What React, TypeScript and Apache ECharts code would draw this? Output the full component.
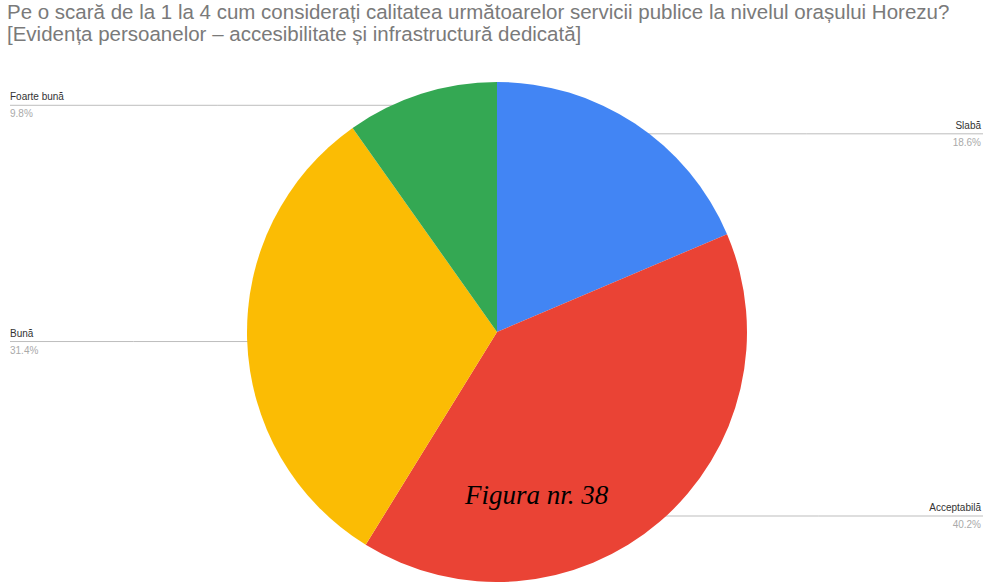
import React, { useEffect, useRef } from "react";
import * as echarts from "echarts";

const categories = ["Slabă", "Acceptabilă", "Bună", "Foarte bună"];
const values = [18.6, 40.2, 31.4, 9.8];
const colors = ["#4285F4", "#EA4335", "#FBBC04", "#34A853"];
const titleLines = [
  "Pe o scară de la 1 la 4 cum considerați calitatea următoarelor servicii publice la nivelul orașului Horezu?",
  "[Evidența persoanelor – accesibilitate și infrastructură dedicată]",
];
const figureCaption = "Figura nr. 38";

const W = 984;
const H = 582;
const CX = 497;
const CY = 332;
const R = 250;

export default function App() {
  const ref = useRef<HTMLDivElement>(null);
  useEffect(() => {
    if (!ref.current) return;
    const chart = echarts.init(ref.current, null, { renderer: "svg" });
    const total = values.reduce((a, b) => a + b, 0);
    const mids: number[] = [];
    let cum = 0;
    values.forEach((v) => {
      mids.push(((cum + v / 2) / total) * Math.PI * 2);
      cum += v;
    });
    chart.setOption({
      animation: false,
      backgroundColor: "#ffffff",
      title: {
        text: titleLines.join("\n"),
        left: 7,
        top: 0,
        padding: [0, 0, 0, 0],
        textStyle: {
          fontFamily: "Liberation Sans, Arial, sans-serif",
          fontSize: 20.5,
          fontWeight: "normal",
          color: "#7a7a7a",
          lineHeight: 22,
        },
      },
      graphic: [
        {
          type: "text",
          left: 465,
          top: 481,
          style: {
            text: figureCaption,
            font: "italic 27px 'Liberation Serif', 'Times New Roman', serif",
            fill: "#000000",
          },
          z: 100,
        },
      ],
      series: [
        {
          type: "pie",
          center: [CX, CY],
          radius: [0, R],
          startAngle: 90,
          clockwise: true,
          avoidLabelOverlap: false,
          itemStyle: { borderWidth: 0 },
          data: categories.map((c, i) => ({
            name: c,
            value: values[i],
            itemStyle: { color: colors[i] },
          })),
          label: {
            show: true,
            position: "outside",
            formatter: (p: any) => `{n|${p.name}}\n{p|${p.value.toFixed(1)}%}`,
            rich: {
              n: {
                fontFamily: "Liberation Sans, Arial, sans-serif",
                fontSize: 10,
                color: "#333333",
                lineHeight: 17,
              },
              p: {
                fontFamily: "Liberation Sans, Arial, sans-serif",
                fontSize: 10,
                color: "#aaaaaa",
                lineHeight: 17,
              },
            },
          },
          labelLine: {
            show: true,
            lineStyle: { color: "#bdbdbd", width: 1 },
          },
          labelLayout: (params: any) => {
            const a = mids[params.dataIndex];
            const x0 = CX + 0.96 * R * Math.sin(a);
            const y0 = CY - 0.96 * R * Math.cos(a) + 2;
            const right = Math.sin(a) > 0;
            const ex = right ? W - 1 : 10;
            return {
              x: right ? W - 3 : 10,
              y: y0,
              align: right ? "right" : "left",
              verticalAlign: "middle",
              labelLinePoints: [
                [x0, y0],
                [(x0 + ex) / 2, y0],
                [ex, y0],
              ],
            };
          },
        },
      ],
    });
    return () => chart.dispose();
  }, []);
  return (
    <div
      ref={ref}
      style={{ position: "absolute", left: 0, top: 0, width: W, height: H }}
    />
  );
}
